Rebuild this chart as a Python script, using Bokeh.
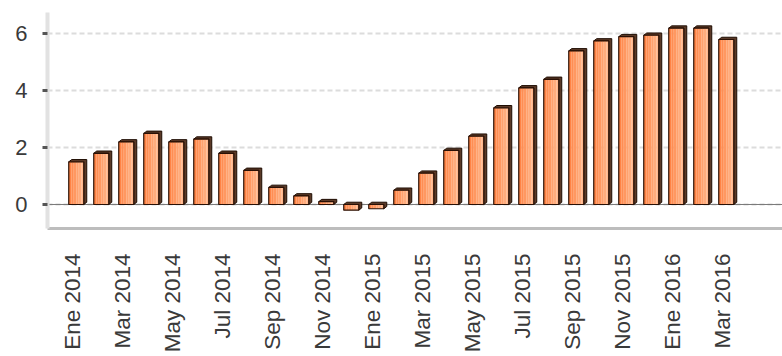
from bokeh.plotting import figure
from bokeh.models import FixedTicker, Span, Range1d, ColumnDataSource
from bokeh.embed import file_html
from bokeh.resources import INLINE

# ---- data ----
months = ["Ene 2014", "Feb 2014", "Mar 2014", "Abr 2014", "May 2014", "Jun 2014",
          "Jul 2014", "Ago 2014", "Sep 2014", "Oct 2014", "Nov 2014", "Dic 2014",
          "Ene 2015", "Feb 2015", "Mar 2015", "Abr 2015", "May 2015", "Jun 2015",
          "Jul 2015", "Ago 2015", "Sep 2015", "Oct 2015", "Nov 2015", "Dic 2015",
          "Ene 2016", "Feb 2016", "Mar 2016"]
values = [1.5, 1.8, 2.2, 2.5, 2.2, 2.3, 1.8, 1.2, 0.6, 0.3, 0.1, -0.2,
          -0.15, 0.5, 1.1, 1.9, 2.4, 3.4, 4.1, 4.4, 5.4, 5.75, 5.9, 5.95,
          6.2, 6.2, 5.8]
y_ticks = [0, 2, 4, 6]

# ---- style ----
FONT = "Liberation Sans"
BAR_SHIFT = 0.15
HW = 0.3
DX = 0.12
DY = 0.08
N_STRIPS = 6
C0 = (255, 132, 70)
C1 = (255, 182, 138)

p = figure(width=782, height=356, x_range=Range1d(-1.0, 28.4), y_range=Range1d(-0.844, 6.75),
           output_backend="svg", toolbar_location=None,
           min_border_left=47, min_border_right=0, min_border_top=12, min_border_bottom=128)
p.outline_line_color = None
p.background_fill_color = "white"

p.xgrid.grid_line_color = None
p.ygrid.grid_line_color = "#dcdcdc"
p.ygrid.grid_line_width = 2
p.ygrid.grid_line_dash = "5 3"
p.ygrid.ticker = FixedTicker(ticks=y_ticks)

zero = Span(location=0, dimension="width", line_color="#7a7a7a", line_width=1, level="underlay")
p.add_layout(zero)

# 3D back/side faces
xs_back, ys_back = [], []
for i, v in enumerate(values):
    c = i + BAR_SHIFT
    l, r = c - HW, c + HW
    lo, hi = min(v, 0), max(v, 0)
    xs_back.append([l, l + DX, r + DX, r + DX, r, r])
    ys_back.append([hi, hi + DY, hi + DY, lo + DY, lo, hi])
p.patches(xs_back, ys_back, fill_color="#5b3a28", line_color="#1e0c02", line_width=1)

# gradient front faces
sl, sr, st, sb, sc = [], [], [], [], []
for i, v in enumerate(values):
    c = i + BAR_SHIFT
    l = c - HW
    w = 2 * HW / N_STRIPS
    for k in range(N_STRIPS):
        t = k / (N_STRIPS - 1)
        col = "#%02x%02x%02x" % tuple(int(a + (b - a) * t) for a, b in zip(C0, C1))
        sl.append(l + k * w)
        sr.append(l + (k + 1) * w + 0.001)
        st.append(max(v, 0))
        sb.append(min(v, 0))
        sc.append(col)
p.quad(left=sl, right=sr, top=st, bottom=sb, fill_color=sc, line_color=None)

src = ColumnDataSource(dict(
    left=[i + BAR_SHIFT - HW for i in range(len(values))],
    right=[i + BAR_SHIFT + HW for i in range(len(values))],
    top=[max(v, 0) for v in values],
    bottom=[min(v, 0) for v in values],
))
p.quad(left="left", right="right", top="top", bottom="bottom", source=src,
       fill_color=None, line_color="#2a1005", line_width=1.2)

# axes
p.yaxis.ticker = FixedTicker(ticks=y_ticks)
p.yaxis.axis_line_color = "#e2e2e2"
p.yaxis.axis_line_width = 4
p.yaxis.major_tick_line_color = "#555555"
p.yaxis.major_tick_line_width = 3
p.yaxis.major_tick_out = 5
p.yaxis.major_tick_in = 0
p.yaxis.minor_tick_line_color = None
p.yaxis.major_label_standoff = 15
p.yaxis.major_label_text_font = FONT
p.yaxis.major_label_text_font_size = "22px"
p.yaxis.major_label_text_color = "#3a3a3a"

tick_idx = list(range(0, len(months), 2))
p.xaxis.ticker = FixedTicker(ticks=tick_idx)
p.xaxis.major_label_overrides = {i: months[i] for i in tick_idx}
p.xaxis.major_label_orientation = 3.14159265 / 2
p.xaxis.axis_line_color = "#bdbdbd"
p.xaxis.axis_line_width = 3
p.xaxis.major_tick_line_color = None
p.xaxis.minor_tick_line_color = None
p.xaxis.major_label_standoff = 19
p.xaxis.major_label_text_font = FONT
p.xaxis.major_label_text_font_size = "22.5px"
p.xaxis.major_label_text_color = "#3a3a3a"

open("out.html", "w").write(file_html(p, INLINE))
